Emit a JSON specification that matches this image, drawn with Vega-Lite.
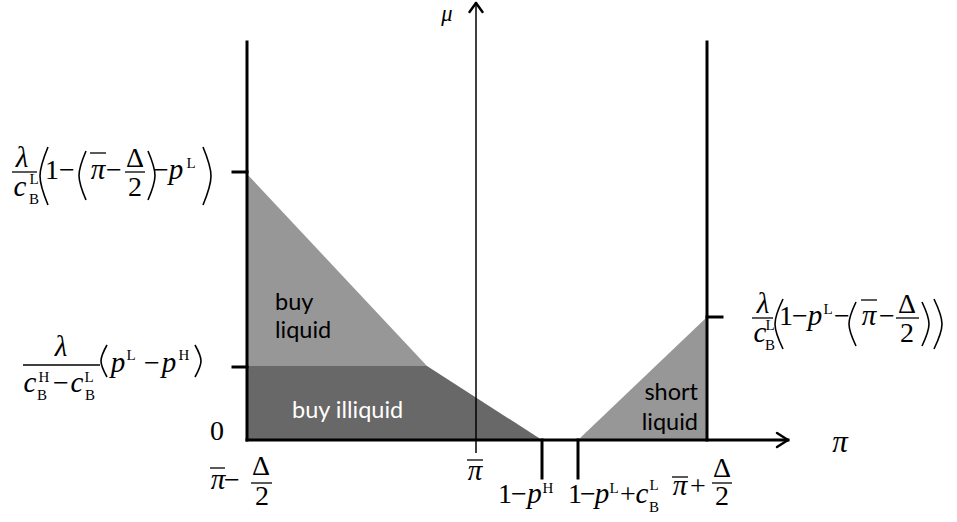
{
  "$schema": "https://vega.github.io/schema/vega-lite/v6.json",
  "width": 957,
  "height": 522,
  "padding": 0,
  "autosize": {"type": "fit", "contains": "padding"},
  "background": "white",
  "config": {"view": {"stroke": null}},
  "datasets": {
    "regions": [
      {"region": "buy illiquid", "x": 0, "y": 74, "y2": 0},
      {"region": "buy illiquid", "x": 180, "y": 74, "y2": 0},
      {"region": "buy illiquid", "x": 295, "y": 0, "y2": 0},
      {"region": "buy liquid", "x": 0, "y": 266, "y2": 74},
      {"region": "buy liquid", "x": 180, "y": 74, "y2": 74},
      {"region": "short liquid", "x": 331, "y": 0, "y2": 0},
      {"region": "short liquid", "x": 460, "y": 123, "y2": 0}
    ],
    "thick": [
      {"x": 0, "y": 0, "x2": 0, "y2": 398},
      {"x": 460, "y": 0, "x2": 460, "y2": 398},
      {"x": 0, "y": 0, "x2": 541, "y2": 0},
      {"x": -14, "y": 268, "x2": 0, "y2": 268},
      {"x": -14, "y": 73, "x2": 0, "y2": 73},
      {"x": 460, "y": 123, "x2": 475, "y2": 123},
      {"x": 295, "y": 0, "x2": 295, "y2": -38},
      {"x": 331, "y": 0, "x2": 331, "y2": -38}
    ],
    "arrows": [
      {"x": 229, "y": 437, "x2": 222.5, "y2": 428},
      {"x": 229, "y": 437, "x2": 235.5, "y2": 428},
      {"x": 541, "y": 0, "x2": 530, "y2": 7},
      {"x": 541, "y": 0, "x2": 530, "y2": -7}
    ],
    "muaxis": [
      {"x": 229, "y": -13, "x2": 229, "y2": 437}
    ],
    "bars": [
      {"x": -235, "x2": -210, "y": 268, "y2": 268},
      {"x": -157, "x2": -141, "y": 287, "y2": 287},
      {"x": -122, "x2": -102, "y": 268, "y2": 268},
      {"x": -224, "x2": -147, "y": 75, "y2": 75},
      {"x": 505, "x2": 526, "y": 122, "y2": 122},
      {"x": 614, "x2": 630, "y": 140, "y2": 140},
      {"x": 649, "x2": 672, "y": 122, "y2": 122},
      {"x": -37, "x2": -22, "y": -28, "y2": -28},
      {"x": 4, "x2": 25, "y": -43, "y2": -43},
      {"x": 220, "x2": 236, "y": -20, "y2": -20},
      {"x": 425, "x2": 441, "y": -37, "y2": -37},
      {"x": 465, "x2": 485, "y": -43, "y2": -43}
    ],
    "parens": [
      {"id": "a1", "i": 0, "x": -199, "y": 293},
      {"id": "a1", "i": 1, "x": -207, "y": 264},
      {"id": "a1", "i": 2, "x": -199, "y": 235},
      {"id": "a2", "i": 0, "x": -161, "y": 289},
      {"id": "a2", "i": 1, "x": -168, "y": 264.5},
      {"id": "a2", "i": 2, "x": -161, "y": 240},
      {"id": "a3", "i": 0, "x": -99, "y": 289},
      {"id": "a3", "i": 1, "x": -92, "y": 264.5},
      {"id": "a3", "i": 2, "x": -99, "y": 240},
      {"id": "a4", "i": 0, "x": -44, "y": 293},
      {"id": "a4", "i": 1, "x": -36, "y": 264},
      {"id": "a4", "i": 2, "x": -44, "y": 235},
      {"id": "b1", "i": 0, "x": -140, "y": 95},
      {"id": "b1", "i": 1, "x": -146, "y": 79},
      {"id": "b1", "i": 2, "x": -140, "y": 63},
      {"id": "b2", "i": 0, "x": -52, "y": 95},
      {"id": "b2", "i": 1, "x": -46, "y": 79},
      {"id": "b2", "i": 2, "x": -52, "y": 63},
      {"id": "r1", "i": 0, "x": 536, "y": 141},
      {"id": "r1", "i": 1, "x": 528, "y": 116},
      {"id": "r1", "i": 2, "x": 536, "y": 91},
      {"id": "r2", "i": 0, "x": 609, "y": 138},
      {"id": "r2", "i": 1, "x": 602, "y": 116},
      {"id": "r2", "i": 2, "x": 609, "y": 94},
      {"id": "r3", "i": 0, "x": 675, "y": 138},
      {"id": "r3", "i": 1, "x": 682, "y": 116},
      {"id": "r3", "i": 2, "x": 675, "y": 94},
      {"id": "r4", "i": 0, "x": 687, "y": 141},
      {"id": "r4", "i": 1, "x": 695, "y": 116},
      {"id": "r4", "i": 2, "x": 687, "y": 91}
    ],
    "italic": [
      {"t": "λ", "x": -225, "y": 273},
      {"t": "c", "x": -227, "y": 244},
      {"t": "π", "x": -149, "y": 261},
      {"t": "p", "x": -71, "y": 261},
      {"t": "λ", "x": -186, "y": 84},
      {"t": "c", "x": -217, "y": 48},
      {"t": "c", "x": -170, "y": 48},
      {"t": "p", "x": -129, "y": 68},
      {"t": "p", "x": -78, "y": 68},
      {"t": "λ", "x": 516, "y": 127},
      {"t": "c", "x": 513, "y": 98},
      {"t": "π", "x": 622, "y": 115},
      {"t": "p", "x": 568, "y": 115},
      {"t": "π", "x": -29, "y": -49},
      {"t": "π", "x": 228, "y": -40},
      {"t": "p", "x": 287.5, "y": -63},
      {"t": "p", "x": 355, "y": -63},
      {"t": "c", "x": 395, "y": -63},
      {"t": "π", "x": 433, "y": -55}
    ],
    "mu": [
      {"t": "μ", "x": 200, "y": 419.5}
    ],
    "roman": [
      {"t": "1", "x": -195, "y": 261},
      {"t": "−", "x": -180, "y": 261},
      {"t": "−", "x": -133, "y": 261},
      {"t": "Δ", "x": -112, "y": 273},
      {"t": "2", "x": -112, "y": 244},
      {"t": "−", "x": -86, "y": 261},
      {"t": "−", "x": -186, "y": 48},
      {"t": "−", "x": -95, "y": 68},
      {"t": "1", "x": 539, "y": 115},
      {"t": "−", "x": 553, "y": 115},
      {"t": "−", "x": 595, "y": 115},
      {"t": "−", "x": 640, "y": 115},
      {"t": "Δ", "x": 660, "y": 127},
      {"t": "2", "x": 660, "y": 98},
      {"t": "−", "x": -15, "y": -49},
      {"t": "Δ", "x": 14, "y": -35},
      {"t": "2", "x": 15, "y": -65},
      {"t": "1", "x": 258, "y": -63},
      {"t": "−", "x": 272, "y": -63},
      {"t": "1", "x": 328, "y": -63},
      {"t": "−", "x": 341, "y": -63},
      {"t": "+", "x": 381, "y": -63},
      {"t": "+", "x": 451, "y": -55},
      {"t": "Δ", "x": 475, "y": -37},
      {"t": "2", "x": 475, "y": -65},
      {"t": "0", "x": -30, "y": 0}
    ],
    "small": [
      {"t": "L", "x": -213, "y": 256},
      {"t": "B", "x": -213, "y": 236},
      {"t": "L", "x": -56, "y": 272},
      {"t": "H", "x": -203, "y": 58},
      {"t": "B", "x": -205, "y": 40},
      {"t": "L", "x": -158, "y": 58},
      {"t": "B", "x": -157, "y": 40},
      {"t": "L", "x": -116, "y": 80},
      {"t": "H", "x": -63, "y": 80},
      {"t": "L", "x": 523, "y": 110},
      {"t": "B", "x": 523, "y": 90},
      {"t": "L", "x": 581, "y": 126},
      {"t": "H", "x": 301, "y": -53},
      {"t": "L", "x": 367, "y": -53},
      {"t": "L", "x": 407, "y": -50},
      {"t": "B", "x": 407, "y": -72}
    ],
    "axislabel": [
      {"t": "π", "x": 593, "y": -12}
    ],
    "lefttext": [
      {"t": "buy", "x": 28, "y": 130},
      {"t": "liquid", "x": 28, "y": 102}
    ],
    "righttext": [
      {"t": "short", "x": 451, "y": 40},
      {"t": "liquid", "x": 451, "y": 10}
    ],
    "whitetext": [
      {"t": "buy illiquid", "x": 45, "y": 22}
    ]
  },
  "encoding": {
    "x": {"field": "x", "type": "quantitative", "scale": {"domain": [-247, 710], "nice": false, "zero": false}, "axis": null},
    "y": {"field": "y", "type": "quantitative", "scale": {"domain": [-82, 440], "nice": false, "zero": false}, "axis": null}
  },
  "layer": [
    {
      "data": {"name": "regions"},
      "mark": {"type": "area", "opacity": 1, "interpolate": "linear"},
      "encoding": {
        "y": {"field": "y", "type": "quantitative", "stack": null},
        "y2": {"field": "y2"},
        "color": {"field": "region", "type": "nominal", "scale": {"domain": ["buy illiquid", "buy liquid", "short liquid"], "range": ["#686868", "#979797", "#979797"]}, "legend": null}
      }
    },
    {
      "data": {"name": "muaxis"},
      "mark": {"type": "rule", "color": "black", "strokeWidth": 1.5},
      "encoding": {"x2": {"field": "x2"}, "y2": {"field": "y2"}}
    },
    {
      "data": {"name": "thick"},
      "mark": {"type": "rule", "color": "black", "strokeWidth": 3, "strokeCap": "square"},
      "encoding": {"x2": {"field": "x2"}, "y2": {"field": "y2"}}
    },
    {
      "data": {"name": "arrows"},
      "mark": {"type": "rule", "color": "black", "strokeWidth": 2.5, "strokeCap": "round"},
      "encoding": {"x2": {"field": "x2"}, "y2": {"field": "y2"}}
    },
    {
      "data": {"name": "bars"},
      "mark": {"type": "rule", "color": "black", "strokeWidth": 1.3},
      "encoding": {"x2": {"field": "x2"}, "y2": {"field": "y2"}}
    },
    {
      "data": {"name": "parens"},
      "mark": {"type": "line", "color": "black", "strokeWidth": 1.6, "interpolate": "natural"},
      "encoding": {"detail": {"field": "id"}, "order": {"field": "i", "type": "quantitative"}}
    },
    {
      "data": {"name": "italic"},
      "mark": {"type": "text", "font": "Liberation Serif", "fontStyle": "italic", "fontSize": 29, "align": "center", "baseline": "alphabetic", "color": "black"},
      "encoding": {"text": {"field": "t"}}
    },
    {
      "data": {"name": "mu"},
      "mark": {"type": "text", "font": "Liberation Serif", "fontStyle": "italic", "fontSize": 22.5, "align": "center", "baseline": "alphabetic", "color": "black"},
      "encoding": {"text": {"field": "t"}}
    },
    {
      "data": {"name": "roman"},
      "mark": {"type": "text", "font": "Liberation Serif", "fontSize": 28, "align": "center", "baseline": "alphabetic", "color": "black"},
      "encoding": {"text": {"field": "t"}}
    },
    {
      "data": {"name": "small"},
      "mark": {"type": "text", "font": "Liberation Serif", "fontSize": 15, "align": "center", "baseline": "alphabetic", "color": "black"},
      "encoding": {"text": {"field": "t"}}
    },
    {
      "data": {"name": "axislabel"},
      "mark": {"type": "text", "font": "Liberation Serif", "fontStyle": "italic", "fontSize": 31, "align": "center", "baseline": "alphabetic", "color": "black"},
      "encoding": {"text": {"field": "t"}}
    },
    {
      "data": {"name": "lefttext"},
      "mark": {"type": "text", "font": "Lato", "fontSize": 23.5, "align": "left", "baseline": "alphabetic", "color": "black"},
      "encoding": {"text": {"field": "t"}}
    },
    {
      "data": {"name": "righttext"},
      "mark": {"type": "text", "font": "Lato", "fontSize": 23.5, "align": "right", "baseline": "alphabetic", "color": "black"},
      "encoding": {"text": {"field": "t"}}
    },
    {
      "data": {"name": "whitetext"},
      "mark": {"type": "text", "font": "Lato", "fontSize": 23.5, "align": "left", "baseline": "alphabetic", "color": "white"},
      "encoding": {"text": {"field": "t"}}
    }
  ]
}
